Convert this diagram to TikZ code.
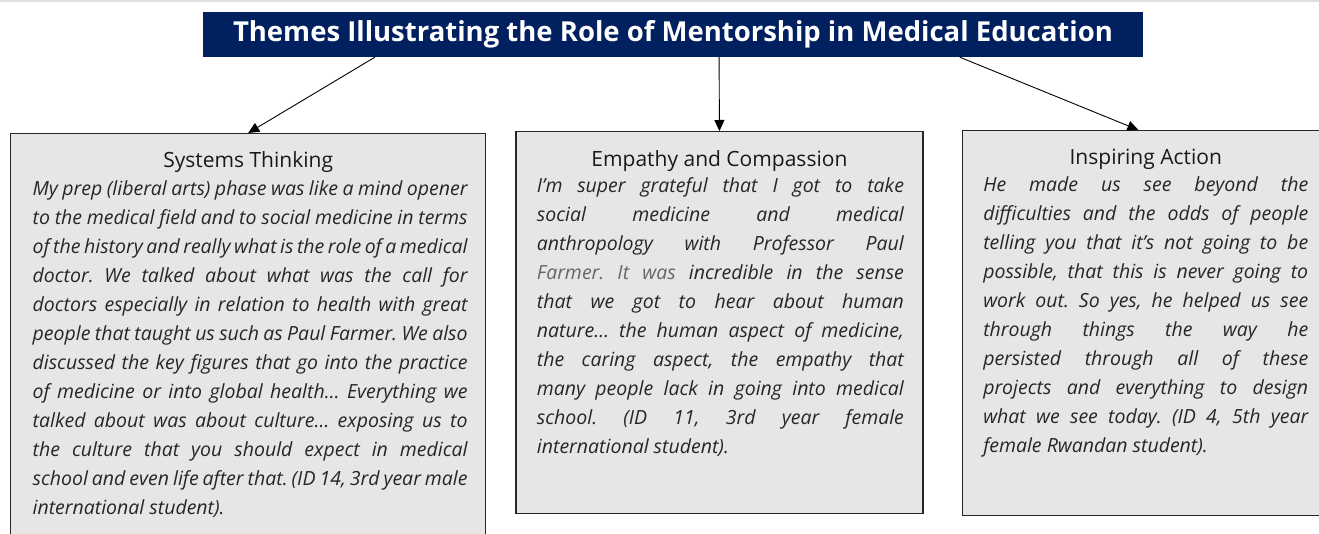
\documentclass[tikz,border=0pt]{standalone}
\usepackage{fontspec}
\setmainfont{Open Sans}
\usetikzlibrary{positioning, arrows.meta, calc}
\definecolor{navy}{HTML}{002060}
\definecolor{boxgray}{HTML}{E6E6E6}
\definecolor{ink}{HTML}{262626}
\tikzset{
  >={Triangle[length=11pt, width=10pt]},
  titlebox/.style={fill=navy, text=white, font=\fontsize{27.5}{30}\selectfont\bfseries, minimum width=940pt, minimum height=45pt, inner sep=0pt},
  theme/.style={draw=black!85, line width=1.3pt, fill=boxgray, anchor=north west, inner sep=0pt},
  head/.style={font=\fontsize{21}{24}\selectfont, text=black!90, anchor=base, inner sep=0pt},
  quote/.style={font=\fontsize{19.5}{29}\selectfont\itshape\frenchspacing, text=ink, align=justify, anchor=base, inner sep=0pt},
}

\begin{document}
\begin{tikzpicture}[x=1pt, y=-1pt]
  \useasboundingbox (0,0) rectangle (1319,533);
  \fill[black!12] (0,0) rectangle (1319,2);

  \node[titlebox] (title) at (673,34.5) {Themes Illustrating the Role of Mentorship in Medical Education};

  \node[theme, minimum width=475pt, minimum height=420pt] (sys) at (10,133) {};
  \node[theme, minimum width=407pt, minimum height=382pt, right=29pt of sys.north east, anchor=north west, yshift=2pt] (emp) {};
  \node[theme, minimum width=367pt, minimum height=385pt, right=38pt of emp.north east, anchor=north west, yshift=1pt] (act) {};

  \node[head] (sysh) at ($(sys.north)+(0,34)$) {Systems Thinking};
  \node[head] (emph) at ($(emp.north)+(0,35)$) {Empathy and Compassion};
  \node[head] (acth) at ($(act.north)+(0,34)$) {Inspiring Action};

  \node[quote, text width=435pt] (sysq) at ($(sys.north)+(2,62)$) {My prep (liberal arts) phase was like a mind opener\linebreak
    to the medical field and to social medicine in terms\linebreak
    of the history and really what is the role of a medical\linebreak
    doctor. We talked about what was the call for\linebreak
    doctors especially in relation to health with great\linebreak
    people that taught us such as Paul Farmer. We also\linebreak
    discussed the key figures that go into the practice\linebreak
    of medicine or into global health… Everything we\linebreak
    talked about was about culture… exposing us to\linebreak
    the culture that you should expect in medical\linebreak
    school and even life after that. (ID 14, 3rd year male\linebreak
    international student).};
  \node[quote, text width=367pt] (empq) at ($(emp.north)+(1,61)$) {I'm super grateful that I got to take\linebreak
    social medicine and medical\linebreak
    anthropology with Professor Paul\linebreak
    {\color{black!60}Farmer. It was} incredible in the sense\linebreak
    that we got to hear about human\linebreak
    nature… the human aspect of medicine,\linebreak
    the caring aspect, the empathy that\linebreak
    many people lack in going into medical\linebreak
    school. (ID 11, 3rd year female\linebreak
    international student).};
  \node[quote, text width=325pt] (actq) at ($(act.north)+(0,61)$) {He made us see beyond the\linebreak
    difficulties and the odds of people\linebreak
    telling you that it's not going to be\linebreak
    possible, that this is never going to\linebreak
    work out. So yes, he helped us see\linebreak
    through things the way he\linebreak
    persisted through all of these\linebreak
    projects and everything to design\linebreak
    what we see today. (ID 4, 5th year\linebreak
    female Rwandan student).};

  \draw[->, line width=0.9pt] ($(title.south west)!0.183!(title.south east)$) -- (sys.north);
  \draw[->, line width=0.9pt] ($(title.south west)!0.549!(title.south east)$) -- (emp.north);
  \draw[->, line width=0.9pt] ($(title.south west)!0.805!(title.south east)$) -- ($(act.north west)!0.48!(act.north east)$);
\end{tikzpicture}
\end{document}
